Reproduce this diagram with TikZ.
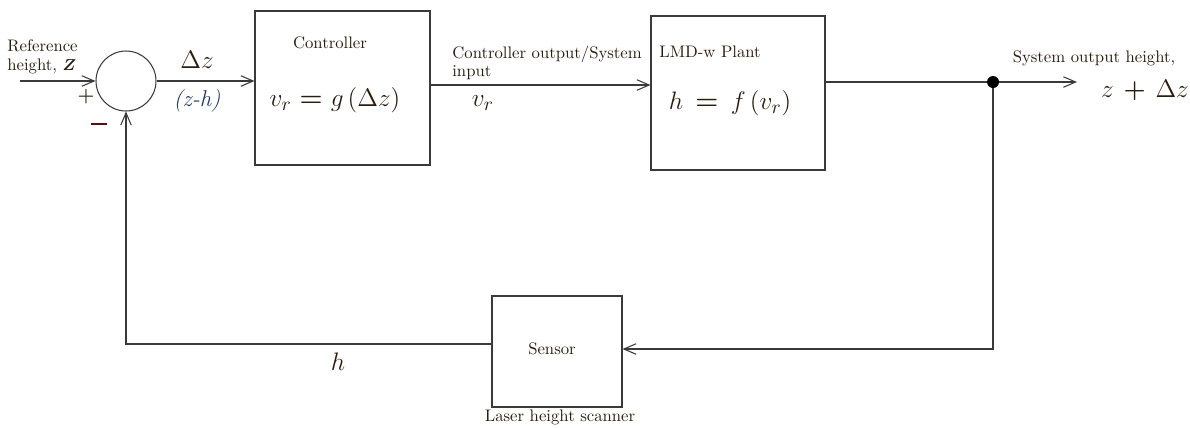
\documentclass[tikz,border=0pt]{standalone}
\usepackage{xcolor}
\usepackage{amsmath}
\usepackage{amssymb}
\usepackage{tikz}
\usetikzlibrary{positioning, calc, arrows.meta}
\definecolor{inkgray}{HTML}{3A3A3A}
\definecolor{txtbrown}{HTML}{2B1D0E}
\definecolor{zhblue}{HTML}{1F3864}
\definecolor{minusred}{HTML}{5A1010}

\begin{document}
\begin{tikzpicture}[x=0.02cm, y=-0.02cm, font=\fontsize{9.5}{11.5}\selectfont, text=txtbrown,
            >={Straight Barb[length=7pt, width=6pt]},
            block/.style={rectangle, draw=inkgray, line width=0.6pt, inner sep=0pt},
            sumnode/.style={circle, draw=inkgray, line width=0.6pt, minimum size=1.2cm, inner sep=0pt},
            wire/.style={inkgray, line width=0.6pt},
            big/.style={font=\fontsize{15}{18}\selectfont}]
            \useasboundingbox (0,0) rectangle (1190,427);
            % blocks
            \node[sumnode] (sum) at (126,81) {};
            \node[block, minimum width=3.5cm, minimum height=3.08cm] (ctrl) at (342.5,88) {};
            \node[block, minimum width=3.48cm, minimum height=3.08cm] (plant) at (738,93) {};
            \node[block, minimum width=2.6cm, minimum height=2.22cm] (sensor) at (557,351.5) {};
            \node[circle, fill=black, minimum width=0.24cm, minimum height=0.24cm, inner sep=0pt] (dot) at (993,82) {};
            \coordinate (ref) at (20,81);
            \coordinate (u) at (540,85);
            \coordinate (out) at (1077,82);
            \coordinate (fbin) at (0,349);
            \coordinate (fbout) at (0,344);
            % texts
            \node[align=left, anchor=west, inner sep=0pt] (reftxt) at (7,57) {Reference\\[-1pt]height, $\boldsymbol{Z}$};
            \node[font=\bfseries\fontsize{11}{12}\selectfont] (plus) at (86,97) {+};
            \node[text=minusred, inner sep=0pt] (minus) at (99,124) {\rule{9pt}{1.6pt}};
            \node[big] (dz) at (197,60) {$\Delta z$};
            \node[text=zhblue, font=\fontsize{13}{15}\selectfont] (zh) at (197,101) {\textit{(z-h)}};
            \node (ctrltxt) at (330,43) {Controller};
            \node[big] (geq) at (335,100) {$v_r$ \textbf{=} $g\,(\Delta z)$};
            \node[align=left, anchor=west, inner sep=0pt] (cotxt) at (452,63) {Controller output/System\\[-1pt]input};
            \node[big] (vr) at (483,103) {$v_r$};
            \node (planttxt) at (710,52) {LMD-w Plant};
            \node[big] (feq) at (730,103) {$h$ \,\textbf{=}\, $f\,(v_r)$};
            \node (outtxt) at (1094,58) {System output height,};
            \node[big] (zdz) at (1145,90) {$z\,\boldsymbol{+}\,\Delta z$};
            \node (sensortxt) at (552,349) {Sensor};
            \node[big] (htxt) at (338,362) {$h$};
            \node (scantxt) at (560,417) {Laser height scanner};
            % connectors
            \draw[wire, ->] (ref) -- (sum.west);
            \draw[wire, ->] (sum.east) -- (sum.east -| ctrl.west);
            \draw[wire, ->] (ctrl.east |- u) -- (plant.west |- u);
            \draw[wire] (plant.east |- dot) -- (dot);
            \draw[wire, ->] (dot) -- (out);
            \draw[wire, ->] (dot) |- (sensor.east |- fbin);
            \draw[wire, ->] (sensor.west |- fbout) -| (sum.south);
        \end{tikzpicture}
\end{document}
